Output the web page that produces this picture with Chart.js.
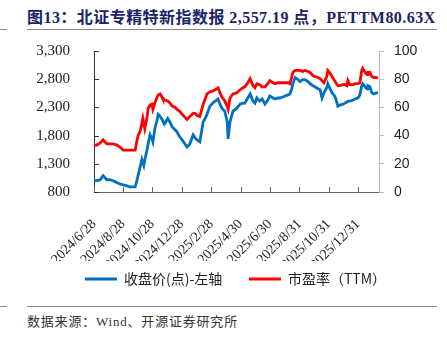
<!DOCTYPE html>
<html><head><meta charset="utf-8">
<script src="https://cdn.jsdelivr.net/npm/chart.js@4.4.1/dist/chart.umd.min.js"></script>
<style>
html,body{margin:0;padding:0;background:#fff;width:447px;height:340px;overflow:hidden;}
#wrap{position:relative;width:447px;height:340px;}
#title{position:absolute;left:27px;top:4px;font:bold 16px "Liberation Serif","Noto Sans CJK SC";color:#1A2366;white-space:nowrap;letter-spacing:0.45px}
.rule{position:absolute;height:0;border-top:1.5px solid #888;}
#src{position:absolute;left:27px;top:311px;font:13px "Liberation Serif","Noto Sans CJK SC";color:#333;white-space:nowrap;letter-spacing:0.8px}
canvas{position:absolute;left:0;top:0;}
</style></head>
<body><div id="wrap">
<div id="title">图13：北证专精特新指数报 2,557.19 点，PETTM80.63X</div>
<div class="rule" style="left:0;width:7px;top:29px"></div>
<div class="rule" style="left:27px;width:410px;top:29px"></div>
<canvas id="c" width="447" height="300" style="width:447px;height:300px"></canvas>
<div class="rule" style="left:0;width:7px;top:306px"></div>
<div class="rule" style="left:27px;width:410px;top:306px"></div>
<div id="src">数据来源：Wind、开源证券研究所</div>
</div>
<script>
// days since 2024/6/28
const days = [0,6,13,19,23,27,33,40,48,54,61,69,75,81,86,90,92,96,100,102,104,106,111,113,117,121,123,127,131,134,138,142,144,148,154,159,163,169,173,179,184,190,194,200,207,211,215,221,228,232,236,242,248,253,259,263,267,273,278,280,284,290,298,305,311,315,321,326,332,336,340,346,351,357,363,367,374,378,384,388,394,399,405,409,413,415,420,426,430,436,440,447,451,457,461,468,472,476,480,486,488,493,497,501,505,509,513,520,524,528,530,534,541,545,551,555,559,561,566,570,572,576,580,584,589,593];
const closePrice = [1000,1000,1017,1090,1054,1017,1017,1000,963,945,927,909,891,891,891,1017,1090,1235,1380,1325,1271,1362,1561,1651,1814,1742,1688,1923,2050,2177,2141,2086,2050,2014,2104,2032,1959,1905,1869,1778,1724,1651,1597,1651,1814,1760,1724,1688,2050,2104,2177,2322,2376,2412,2449,2358,2286,2231,2050,1742,2050,2231,2286,2358,2376,2376,2467,2539,2412,2376,2467,2412,2449,2358,2430,2503,2467,2449,2467,2467,2485,2503,2521,2539,2630,2720,2829,2793,2757,2793,2793,2757,2720,2684,2666,2630,2612,2467,2557,2648,2720,2630,2557,2521,2449,2322,2340,2358,2376,2394,2412,2412,2430,2449,2467,2521,2684,2720,2666,2630,2684,2666,2557,2539,2557,2557.19];
const peTTM = [33.3,33.3,34.8,37.0,35.5,34.1,34.1,34.1,33.3,31.9,29.7,29.7,29.7,29.7,29.7,37.0,39.9,42.8,48.5,52.2,48.5,44.9,53.6,59.4,61.6,62.3,58.7,63.0,66.7,68.8,69.6,67.4,65.9,65.2,64.5,63.0,60.9,60.1,58.7,57.2,55.1,52.9,51.4,53.6,55.8,55.8,54.3,53.6,62.3,65.9,69.6,71.0,71.7,72.5,73.9,70.3,67.4,64.5,60.9,58.7,66.7,69.6,70.3,72.5,73.9,74.6,77.5,80.4,75.4,73.9,76.8,76.1,74.6,74.6,76.8,79.0,77.5,76.8,77.5,77.5,77.5,77.5,77.5,76.8,81.9,84.8,86.2,86.2,86.2,85.5,86.2,85.5,84.8,82.6,81.9,81.2,80.4,79.0,77.5,81.9,86.2,84.1,81.9,79.7,77.5,75.4,75.4,76.1,76.1,75.4,79.0,76.1,76.1,76.8,76.8,77.5,86.2,87.7,84.8,83.3,84.8,84.8,81.9,81.2,81.2,80.63];
const xTickDays = [0,61,122,183,245,306,367,429,490,551];
const xTickLabels = ['2024/6/28','2024/8/28','2024/10/28','2024/12/28','2025/2/28','2025/4/30','2025/6/30','2025/8/31','2025/10/31','2025/12/31'];
const seriesNames = ['收盘价(点)-左轴','市盈率（TTM）'];

const innerTicks = {
  id:'innerTicks',
  afterDatasetsDraw(chart){
    const {ctx, chartArea, scales} = chart;
    ctx.save(); ctx.lineWidth = 1;
    ctx.strokeStyle = '#333';
    scales.y.ticks.forEach(t=>{const py=Math.round(scales.y.getPixelForValue(t.value))+0.5;ctx.beginPath();ctx.moveTo(chartArea.left,py);ctx.lineTo(chartArea.left+5,py);ctx.stroke();});
    ctx.strokeStyle = '#666';
    scales.x.ticks.forEach(t=>{const px=Math.round(scales.x.getPixelForValue(t.value))+0.5;ctx.beginPath();ctx.moveTo(px,chartArea.bottom);ctx.lineTo(px,chartArea.bottom-5);ctx.stroke();});
    ctx.restore();
  }
};

new Chart(document.getElementById('c'), {
  type:'line',
  data:{datasets:[
    {label:seriesNames[0], data:days.map((d,i)=>({x:d,y:closePrice[i]})), yAxisID:'y', borderColor:'#0070C0', backgroundColor:'#0070C0', borderWidth:2.8, pointRadius:0, tension:0},
    {label:seriesNames[1], data:days.map((d,i)=>({x:d,y:peTTM[i]})), yAxisID:'y1', borderColor:'#FF0000', backgroundColor:'#FF0000', borderWidth:2.8, pointRadius:0, tension:0}
  ]},
  options:{
    animation:false, responsive:false, devicePixelRatio:1,
    layout:{padding:{top:51,left:24,right:0,bottom:4}},
    plugins:{
      tooltip:{enabled:false},
      legend:{position:'bottom', labels:{font:{family:'"Noto Sans CJK SC"',size:14}, color:'#222', boxWidth:32, boxHeight:3, padding:11,
        generateLabels(chart){return chart.data.datasets.map((ds,i)=>({text:ds.label+(i===0?'     ':''), fillStyle:ds.borderColor, strokeStyle:ds.borderColor, lineWidth:0, datasetIndex:i, fontColor:'#222'}));}}}
    },
    scales:{
      x:{type:'linear', min:0, max:595,
        afterBuildTicks(s){s.ticks = xTickDays.map(v=>({value:v}));},
        afterFit(s){s.height = 69;},
        grid:{display:false}, border:{display:true,color:'#666',width:1},
        ticks:{autoSkip:false, maxRotation:45, minRotation:45, padding:16, color:'#222', font:{family:'"Liberation Serif"',size:14},
          callback(v){const i=xTickDays.indexOf(v);return i>=0?xTickLabels[i]:'';}}
      },
      y:{position:'left', min:800, max:3300,
        afterFit(s){s.width = 70;},
        grid:{display:false}, border:{display:true,color:'#333',width:1},
        ticks:{stepSize:500, padding:16, color:'#222', font:{family:'"Liberation Serif"',size:15},
          callback(v){return v.toLocaleString('en-US');}}
      },
      y1:{position:'right', min:0, max:100,
        afterFit(s){s.width = 68;},
        grid:{display:true, drawOnChartArea:false, drawTicks:true, tickLength:5, color:'#bbb'}, border:{display:true,color:'#bbb',width:1},
        ticks:{stepSize:20, padding:10, color:'#222', font:{family:'"Liberation Sans"',size:14}}
      }
    }
  },
  plugins:[innerTicks]
});
</script>
</body></html>
